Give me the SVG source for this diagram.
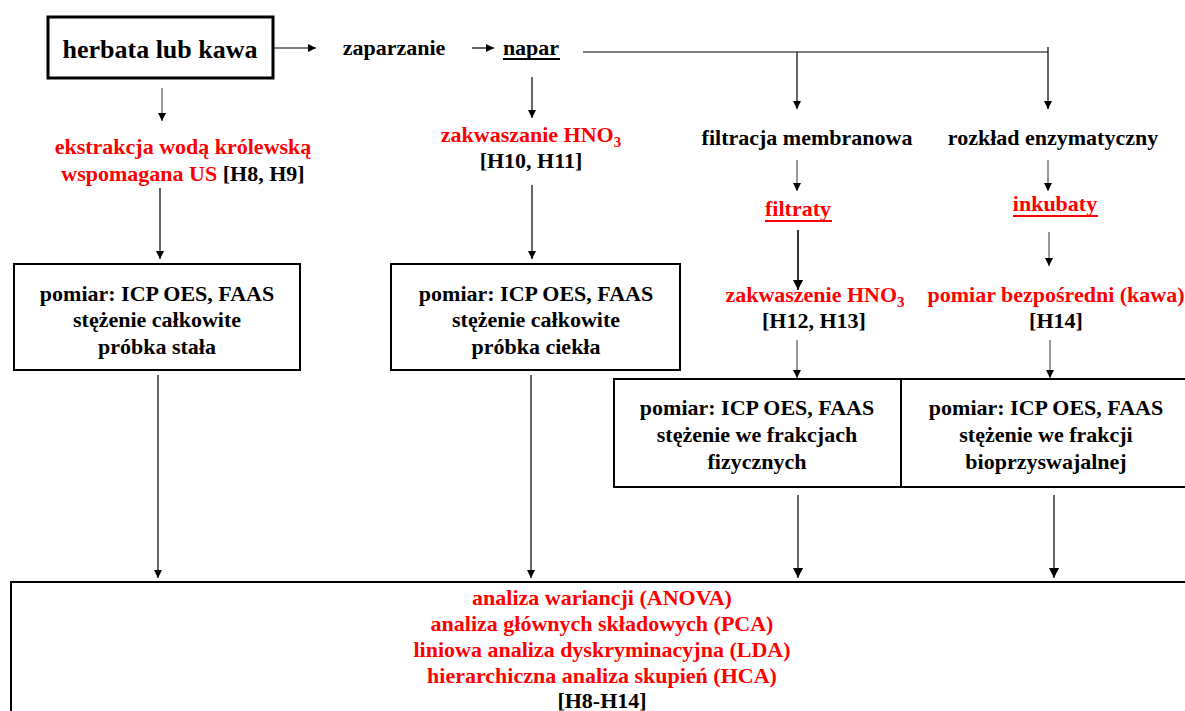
<svg xmlns="http://www.w3.org/2000/svg" width="1185" height="711" viewBox="0 0 1185 711">
<defs>
<style>
text{font-family:"Liberation Serif","Times New Roman","DejaVu Serif",serif;font-weight:bold;font-size:22px;fill:#000;text-anchor:middle}
.red{fill:#ff0000}
.big{font-size:26px}
.box{fill:#fff;stroke:#000;stroke-width:2}
.thick{stroke-width:3}
.c{fill:none;stroke:#000;stroke-width:1.2}
.g{fill:none;stroke:#555;stroke-width:1.2}
.g2{fill:none;stroke:#666;stroke-width:2}
.b2{fill:none;stroke:#000;stroke-width:1.6}
.ul{stroke-width:2}
</style>
<marker id="ah" viewBox="0 0 10 10" refX="10" refY="5" markerWidth="8" markerHeight="8" markerUnits="userSpaceOnUse" orient="auto">
<path d="M0,0 L10,5 L0,10 z" fill="#000"/>
</marker>
<marker id="ahL" viewBox="0 0 10 10" refX="10" refY="5" markerWidth="12" markerHeight="10" markerUnits="userSpaceOnUse" orient="auto">
<path d="M0,0 L10,5 L0,10 z" fill="#000"/>
</marker>
</defs>

<g id="connectors">
<line class="c" x1="273" y1="48" x2="316" y2="48" marker-end="url(#ah)"/>
<line class="c" x1="472" y1="48" x2="494" y2="48" marker-end="url(#ah)"/>
<polyline class="c" points="583,52 1048,52"/>
<line class="c" x1="1048" y1="47" x2="1048" y2="109" marker-end="url(#ah)"/>
<line class="c" x1="797" y1="52" x2="797" y2="109" marker-end="url(#ah)"/>
<line class="c" x1="532" y1="77" x2="532" y2="118" marker-end="url(#ah)"/>
<line class="g" x1="162" y1="88" x2="162" y2="121" marker-end="url(#ah)"/>
<line class="c" x1="160" y1="188" x2="160" y2="259" marker-end="url(#ah)"/>
<line class="c" x1="532" y1="185" x2="532" y2="259" marker-end="url(#ah)"/>
<line class="g" x1="797" y1="160" x2="797" y2="191" marker-end="url(#ah)"/>
<line class="g" x1="1048" y1="160" x2="1048" y2="191" marker-end="url(#ah)"/>
<line class="b2" x1="798" y1="230" x2="798" y2="290" marker-end="url(#ahL)"/>
<line class="g" x1="1049" y1="232" x2="1049" y2="266" marker-end="url(#ah)"/>
<line class="g" x1="797" y1="340" x2="797" y2="378" marker-end="url(#ah)"/>
<line class="g" x1="1050" y1="340" x2="1050" y2="378" marker-end="url(#ah)"/>
<line class="c" x1="158" y1="375" x2="158" y2="578" marker-end="url(#ah)"/>
<line class="c" x1="531" y1="375" x2="531" y2="578" marker-end="url(#ah)"/>
<line class="g2" x1="798" y1="495" x2="798" y2="578" marker-end="url(#ahL)"/>
<line class="g2" x1="1054" y1="495" x2="1054" y2="578" marker-end="url(#ahL)"/>
</g>

<g id="herbata">
<rect class="box thick" x="48" y="17" width="225" height="61"/>
<text class="big" x="160" y="58">herbata lub kawa</text>
</g>

<g id="zaparzanie">
<text x="394" y="55">zaparzanie</text>
</g>

<g id="napar">
<text x="531" y="55">napar</text>
<line x1="503" y1="59" x2="560" y2="59" stroke="#000" class="ul"/>
</g>

<g id="ekstrakcja">
<text class="red" x="183" y="154">ekstrakcja wodą królewską</text>
<text x="183" y="181"><tspan class="red">wspomagana US</tspan> [H8, H9]</text>
</g>

<g id="zakwaszanie">
<text class="red" x="531" y="142">zakwaszanie HNO<tspan font-size="15" dy="5">3</tspan></text>
<text x="531" y="168">[H10, H11]</text>
</g>

<g id="filtracja">
<text x="807" y="145">filtracja membranowa</text>
</g>

<g id="rozklad">
<text x="1053" y="145">rozkład enzymatyczny</text>
</g>

<g id="filtraty">
<text class="red" x="798" y="216">filtraty</text>
<line x1="765" y1="221" x2="832" y2="221" stroke="#ff0000" class="ul"/>
</g>

<g id="inkubaty">
<text class="red" x="1055" y="211">inkubaty</text>
<line x1="1013" y1="216" x2="1098" y2="216" stroke="#ff0000" class="ul"/>
</g>

<g id="zakwaszenie">
<text class="red" x="815" y="302">zakwaszenie HNO<tspan font-size="15" dy="5">3</tspan></text>
<text x="814" y="328">[H12, H13]</text>
</g>

<g id="bezposredni">
<text class="red" x="1056" y="302">pomiar bezpośredni (kawa)</text>
<text x="1056" y="328">[H14]</text>
</g>

<g id="box1">
<rect class="box" x="14" y="264" width="286" height="106"/>
<text x="157" y="301">pomiar: ICP OES, FAAS</text>
<text x="157" y="327">stężenie całkowite</text>
<text x="157" y="354">próbka stała</text>
</g>

<g id="box2">
<rect class="box" x="391" y="264" width="289" height="106"/>
<text x="536" y="301">pomiar: ICP OES, FAAS</text>
<text x="536" y="327">stężenie całkowite</text>
<text x="536" y="354">próbka ciekła</text>
</g>

<g id="box3">
<rect class="box" x="614" y="379" width="287" height="108"/>
<text x="757" y="415">pomiar: ICP OES, FAAS</text>
<text x="757" y="442">stężenie we frakcjach</text>
<text x="757" y="469">fizycznych</text>
</g>

<g id="box4">
<rect class="box" x="901" y="379" width="300" height="108"/>
<text x="1046" y="415">pomiar: ICP OES, FAAS</text>
<text x="1046" y="442">stężenie we frakcji</text>
<text x="1046" y="469">bioprzyswajalnej</text>
</g>

<g id="analiza">
<rect class="box" x="11" y="582" width="1190" height="150"/>
<text class="red" x="602" y="605">analiza wariancji (ANOVA)</text>
<text class="red" x="602" y="631">analiza głównych składowych (PCA)</text>
<text class="red" x="602" y="657">liniowa analiza dyskryminacyjna (LDA)</text>
<text class="red" x="602" y="683">hierarchiczna analiza skupień (HCA)</text>
<text x="602" y="708">[H8-H14]</text>
</g>
</svg>
